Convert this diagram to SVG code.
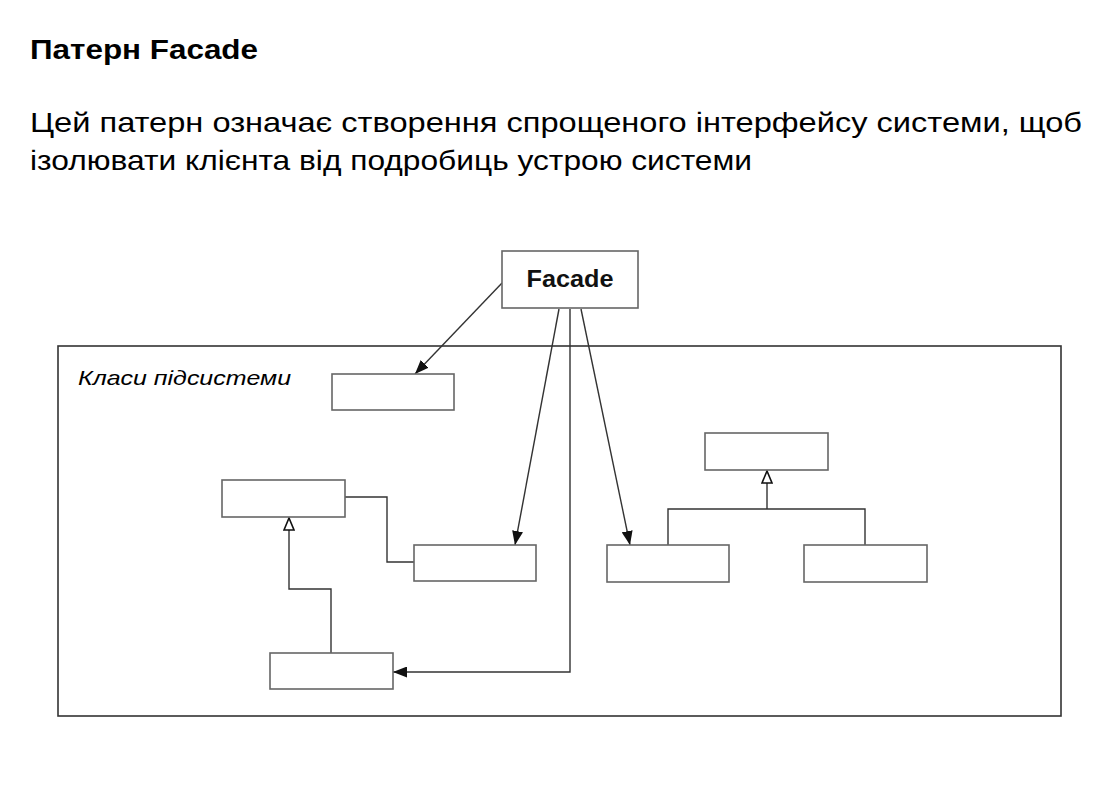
<svg xmlns="http://www.w3.org/2000/svg" width="1118" height="805" viewBox="0 0 1118 805">
<style>
.title{font-family:"Liberation Sans",Arial,sans-serif;font-weight:bold;font-size:27px;fill:#000}
.body{font-family:"Liberation Sans",Arial,sans-serif;font-size:28px;fill:#000}
.box{fill:#fff;stroke:#666;stroke-width:1.6}
.frame{fill:none;stroke:#333;stroke-width:1.6}
.conn{fill:none;stroke:#333;stroke-width:1.4}
.lbl{font-family:"Liberation Sans",Arial,sans-serif;font-style:italic;font-size:21px;fill:#000}
.fac{font-family:"Liberation Sans",Arial,sans-serif;font-weight:bold;font-size:23px;fill:#111}
</style>
<defs>
<marker id="arr" viewBox="0 0 14 11" refX="14" refY="5.5" markerWidth="14" markerHeight="11" markerUnits="userSpaceOnUse" orient="auto">
<path d="M0,0 L14,5.5 L0,11 z" fill="#111"/>
</marker>
<marker id="gen" viewBox="0 0 14 12" refX="13" refY="6" markerWidth="14" markerHeight="12" markerUnits="userSpaceOnUse" orient="auto">
<path d="M1,1 L13,6 L1,11 z" fill="#fff" stroke="#111" stroke-width="1.6"/>
</marker>
</defs>
<rect width="1118" height="805" fill="#fff"/>
<text class="title" x="30" y="59" textLength="228" lengthAdjust="spacingAndGlyphs">Патерн Facade</text>
<text class="body" x="30" y="132" textLength="1052" lengthAdjust="spacingAndGlyphs">Цей патерн означає створення спрощеного інтерфейсу системи, щоб</text>
<text class="body" x="30" y="170" textLength="722" lengthAdjust="spacingAndGlyphs">ізолювати клієнта від подробиць устрою системи</text>

<g id="subsystem">
<rect class="frame" x="58" y="346" width="1003" height="370"/>
<text class="lbl" x="78" y="385" textLength="213" lengthAdjust="spacingAndGlyphs">Класи підсистеми</text>
</g>

<g id="connectors">
<path class="conn" d="M502,283 L415,374" marker-end="url(#arr)"/>
<path class="conn" d="M559,309 L515,545" marker-end="url(#arr)"/>
<path class="conn" d="M581,309 L630,545" marker-end="url(#arr)"/>
<path class="conn" d="M570,309 L570,672 L393,672" marker-end="url(#arr)"/>
<path class="conn" d="M345,497 L387,497 L387,562 L414,562"/>
<path class="conn" d="M331,653 L331,589 L289,589 L289,518" marker-end="url(#gen)"/>
<path class="conn" d="M668,545 L668,509 L865,509 L865,545 M767,509 L767,471" marker-end="url(#gen)"/>
</g>

<g id="facade">
<rect class="box" x="502" y="251" width="136" height="57"/>
<text class="fac" x="570" y="287" text-anchor="middle" textLength="87" lengthAdjust="spacingAndGlyphs">Facade</text>
</g>
<g id="class1"><rect class="box" x="332" y="374" width="122" height="36"/></g>
<g id="class2"><rect class="box" x="222" y="480" width="123" height="37"/></g>
<g id="class3"><rect class="box" x="414" y="545" width="122" height="36"/></g>
<g id="class4"><rect class="box" x="270" y="653" width="123" height="36"/></g>
<g id="class5"><rect class="box" x="705" y="433" width="123" height="37"/></g>
<g id="class6"><rect class="box" x="607" y="545" width="122" height="37"/></g>
<g id="class7"><rect class="box" x="804" y="545" width="123" height="37"/></g>
</svg>
